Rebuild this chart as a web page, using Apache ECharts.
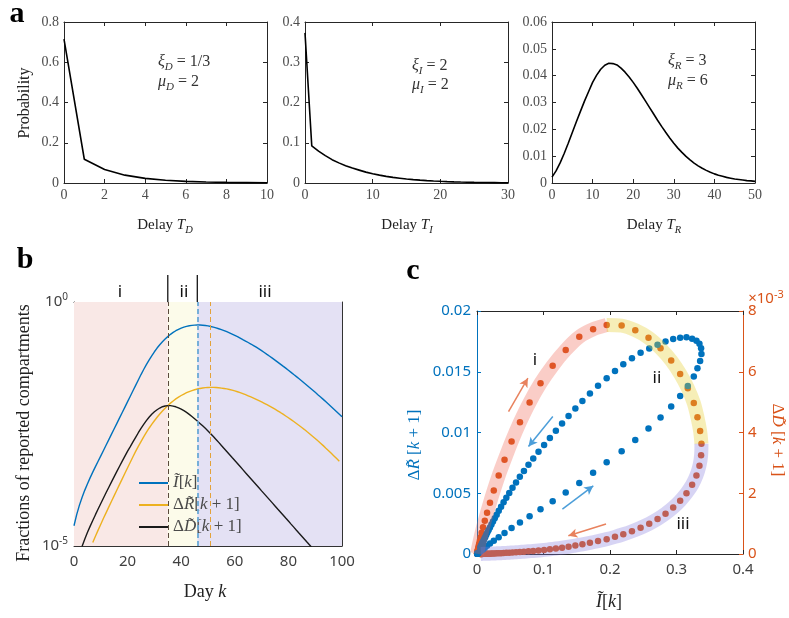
<!DOCTYPE html>
<html>
<head>
<meta charset="utf-8">
<script src="https://cdn.jsdelivr.net/npm/echarts@6/dist/echarts.min.js"></script>
<style>
  html, body { margin: 0; padding: 0; background: #fff; }
  #chart { width: 789px; height: 618px; }
</style>
</head>
<body>
<div id="chart"></div>
<script>
// ---- delay distributions (panel a) ----
const delayD = [0, 1, 2, 3, 4, 5, 6, 7, 8, 9, 10];
const probD = [0.715, 0.118, 0.067, 0.039, 0.023, 0.014, 0.008, 0.005, 0.003, 0.002, 0.001];

const delayI = [0, 1, 2, 3, 4, 5, 6, 7, 8, 9, 10, 11, 12, 13, 14, 15, 16, 17, 18, 19, 20,
  21, 22, 23, 24, 25, 26, 27, 28, 29, 30];
const probI = [0.373, 0.092, 0.079, 0.068, 0.058, 0.050, 0.043, 0.037, 0.032, 0.027, 0.023,
  0.0195, 0.0165, 0.014, 0.012, 0.010, 0.0085, 0.0072, 0.006, 0.005, 0.0042,
  0.0035, 0.0029, 0.0024, 0.0020, 0.0016, 0.0013, 0.0011, 0.0009, 0.0007, 0.0006];

const delayR = [0, 1, 2, 3, 4, 5, 6, 7, 8, 9, 10, 11, 12, 13, 14, 15, 16, 17, 18, 19, 20,
  21, 22, 23, 24, 25, 26, 27, 28, 29, 30, 31, 32, 33, 34, 35, 36, 37, 38, 39, 40,
  41, 42, 43, 44, 45, 46, 47, 48, 49, 50];
const probR = [0.0022, 0.0045, 0.0075, 0.0110, 0.0148, 0.0188, 0.0228, 0.0267, 0.0305, 0.0340,
  0.0375, 0.0402, 0.0424, 0.0439, 0.0446, 0.0445, 0.0440, 0.0428, 0.0413, 0.0395,
  0.0375, 0.0353, 0.0330, 0.0306, 0.0282, 0.0258, 0.0234, 0.0211, 0.0189, 0.0168,
  0.0148, 0.0130, 0.0114, 0.0099, 0.0086, 0.0074, 0.0064, 0.0055, 0.0047, 0.0040,
  0.0034, 0.0029, 0.0025, 0.0021, 0.0018, 0.0015, 0.0013, 0.0011, 0.0009, 0.0008,
  0.0006];

// ---- reported compartments per day (panels b and c) ----
const days = [0, 1, 2, 3, 4, 5, 6, 7, 8, 9, 10, 11, 12, 13, 14, 15, 16, 17, 18, 19,
  20, 21, 22, 23, 24, 25, 26, 27, 28, 29, 30, 31, 32, 33, 34, 35, 36, 37, 38, 39,
  40, 41, 42, 43, 44, 45, 46, 47, 48, 49, 50, 51, 52, 53, 54, 55, 56, 57, 58, 59,
  60, 61, 62, 63, 64, 65, 66, 67, 68, 69, 70, 71, 72, 73, 74, 75, 76, 77, 78, 79,
  80, 81, 82, 83, 84, 85, 86, 87, 88, 89, 90, 91, 92, 93, 94, 95, 96, 97, 98, 99, 100];

// I~[k]
const infected = [2.6e-5, 4.4e-5, 6.8e-5, 9.9e-5, 1.38e-4, 1.87e-4, 2.49e-4, 3.26e-4, 4.23e-4, 5.46e-4,
  7.03e-4, 9.08e-4, 1.173e-3, 1.517e-3, 1.959e-3, 2.529e-3, 3.266e-3, 4.217e-3, 5.445e-3, 7.031e-3,
  9.078e-3, 0.01172, 0.01514, 0.01954, 0.02523, 0.0326, 0.0414, 0.0520, 0.0646, 0.0791,
  0.0955, 0.1138, 0.1334, 0.1538, 0.1746, 0.1950, 0.2175, 0.2380, 0.2579, 0.2760,
  0.2920, 0.3055, 0.3170, 0.3260, 0.3315, 0.3355, 0.3375, 0.3370, 0.3345, 0.3300,
  0.3235, 0.3150, 0.3055, 0.2950, 0.2835, 0.2715, 0.2590, 0.2460, 0.2330, 0.2200,
  0.2075, 0.1950, 0.1820, 0.1698, 0.1585, 0.1479, 0.1377, 0.1279, 0.1186, 0.1096,
  0.1009, 0.0925, 0.0846, 0.0774, 0.0706, 0.0644, 0.0587, 0.0534, 0.0485, 0.0441,
  0.0400, 0.0362, 0.0327, 0.0296, 0.0267, 0.0241, 0.0217, 0.0195, 0.0175, 0.0157,
  0.0141, 0.0126, 0.0113, 0.0101, 0.00900, 0.00802, 0.00714, 0.00635, 0.00564, 0.00500,
  0.00443];

// dR~[k+1]
const newRecovered = [null, null, null, null, null, null, null, 1.175e-5, 1.585e-5, 2.113e-5,
  2.80e-5, 3.69e-5, 4.84e-5, 6.34e-5, 8.28e-5, 1.079e-4, 1.406e-4, 1.828e-4, 2.377e-4, 3.09e-4,
  4.01e-4, 5.20e-4, 6.75e-4, 8.67e-4, 1.10e-3, 1.38e-3, 1.73e-3, 2.13e-3, 2.59e-3, 3.11e-3,
  3.69e-3, 4.34e-3, 5.06e-3, 5.84e-3, 6.68e-3, 7.56e-3, 8.46e-3, 9.39e-3, 0.01033, 0.01123,
  0.01213, 0.01301, 0.01383, 0.01460, 0.01528, 0.01589, 0.01646, 0.01693, 0.01731, 0.01756,
  0.01772, 0.01783, 0.01780, 0.01769, 0.01750, 0.01722, 0.01692, 0.01656, 0.01612, 0.01561,
  0.01507, 0.01446, 0.01384, 0.01321, 0.01259, 0.01197, 0.01135, 0.01074, 0.01014, 0.00955,
  0.00897, 0.00841, 0.00787, 0.00735, 0.00684, 0.00635, 0.00589, 0.00545, 0.00502, 0.00462,
  0.00425, 0.00389, 0.00356, 0.00324, 0.00295, 0.00268, 0.00243, 0.00219, 0.00198, 0.00178,
  0.00160, 0.00143, 0.00128, 0.00114, 0.00101, 8.97e-4, 7.94e-4, 7.01e-4, 6.18e-4, 5.43e-4,
  null];

// dD~[k+1]
const newDeaths = [null, null, null, 9.77e-6, 1.380e-5, 1.884e-5, 2.523e-5, 3.342e-5, 4.385e-5, 5.728e-5,
  7.447e-5, 9.64e-5, 1.245e-4, 1.603e-4, 2.061e-4, 2.642e-4, 3.381e-4, 4.315e-4, 5.495e-4, 6.966e-4,
  8.79e-4, 1.091e-3, 1.361e-3, 1.690e-3, 2.094e-3, 2.582e-3, 3.10e-3, 3.70e-3, 4.34e-3, 4.99e-3,
  5.62e-3, 6.20e-3, 6.72e-3, 7.15e-3, 7.40e-3, 7.54e-3, 7.52e-3, 7.37e-3, 7.12e-3, 6.77e-3,
  6.37e-3, 5.93e-3, 5.46e-3, 4.97e-3, 4.50e-3, 4.05e-3, 3.63e-3, 3.25e-3, 2.904e-3, 2.582e-3,
  2.280e-3, 2.004e-3, 1.754e-3, 1.528e-3, 1.327e-3, 1.151e-3, 9.98e-4, 8.65e-4, 7.50e-4, 6.50e-4,
  5.64e-4, 4.89e-4, 4.24e-4, 3.67e-4, 3.18e-4, 2.76e-4, 2.39e-4, 2.07e-4, 1.80e-4, 1.56e-4,
  1.35e-4, 1.17e-4, 1.016e-4, 8.81e-5, 7.64e-5, 6.62e-5, 5.74e-5, 4.98e-5, 4.32e-5, 3.74e-5,
  3.24e-5, 2.81e-5, 2.44e-5, 2.11e-5, 1.83e-5, 1.59e-5, 1.38e-5, 1.19e-5, 1.035e-5, 8.97e-6,
  7.78e-6, 6.74e-6, 5.84e-6, 5.07e-6, 4.39e-6, 3.81e-6, 3.30e-6, 2.86e-6, 2.48e-6, 2.15e-6,
  null];

// arrows along the loops in panel c, as [I~, dR~] pairs (tail, head)
const loopArrows = [
  { from: [0.0474, 0.01172], to: [0.0765, 0.01447], color: '#E8825E' },
  { from: [0.114, 0.01131], to: [0.0774, 0.00884], color: '#4C9ED9' },
  { from: [0.1284, 0.0037], to: [0.1749, 0.00561], color: '#4C9ED9' },
  { from: [0.194, 0.00247], to: [0.1374, 0.0015], color: '#E8825E' }
];

// ---- styling ----
const SERIF = '"Liberation Serif", "Times New Roman", serif';
const SANS = '"Noto Sans", "Liberation Sans", sans-serif';
const AX = '#262626';
const BLUE = '#0072BD';
const ORANGE = '#D95319';
const GOLD = '#EDB120';

function argmax(arr) {
  let best = -1, bi = 0;
  arr.forEach((v, i) => { if (v !== null && v > best) { best = v; bi = i; } });
  return bi;
}
const kPeakD = days[argmax(newDeaths)];
const kPeakI = days[argmax(infected)];
const kPeakR = days[argmax(newRecovered)];

function pairs(xs, ys) {
  const out = [];
  xs.forEach((x, i) => { if (ys[i] !== null && ys[i] !== undefined) out.push([x, ys[i]]); });
  return out;
}
function pairsRange(xs, ys, from, to) {
  const out = [];
  for (let i = from; i <= to; i++) if (ys[i] !== null) out.push([xs[i], ys[i]]);
  return out;
}

function axis(gridIndex, o) {
  const a = {
    gridIndex: gridIndex,
    position: o.pos,
    type: o.type || 'value',
    min: o.min, max: o.max,
    axisLine: { show: true, onZero: false, lineStyle: { color: o.lineColor || AX, width: 1 } },
    axisTick: { show: true, inside: true, length: o.tickLen || 4, lineStyle: { color: o.lineColor || AX } },
    splitLine: { show: false },
    axisPointer: { show: false },
    axisLabel: o.label ? Object.assign({
      show: true, margin: o.margin || 6, color: o.labelColor || '#404040',
      fontFamily: o.font || SANS, fontSize: o.fontSize || 14
    }, o.labelExtra || {}) : { show: false }
  };
  if (o.interval !== undefined) a.interval = o.interval;
  if (o.type === 'log') a.logBase = 10;
  return a;
}

const aLabel = { font: SERIF, fontSize: 14, labelColor: '#4d4d4d', margin: 5 };

const grids = [
  { left: 64, top: 22, width: 203, height: 161 },
  { left: 305, top: 22, width: 203, height: 161 },
  { left: 552, top: 22, width: 203, height: 161 },
  { left: 74, top: 302, width: 268, height: 244 },
  { left: 477, top: 311, width: 266, height: 243 }
].map(g => Object.assign({ containLabel: false, outerBoundsMode: 'none' }, g));

const xAxes = [
  axis(0, Object.assign({ pos: 'bottom', min: 0, max: 10, interval: 2, label: true }, aLabel)),
  axis(0, { pos: 'top', min: 0, max: 10, interval: 2 }),
  axis(1, Object.assign({ pos: 'bottom', min: 0, max: 30, interval: 10, label: true }, aLabel)),
  axis(1, { pos: 'top', min: 0, max: 30, interval: 10 }),
  axis(2, Object.assign({ pos: 'bottom', min: 0, max: 50, interval: 10, label: true }, aLabel)),
  axis(2, { pos: 'top', min: 0, max: 50, interval: 10 }),
  axis(3, { pos: 'bottom', min: 0, max: 100, interval: 20, label: true, fontSize: 15, margin: 8, lineColor: '#333' }),
  axis(3, { pos: 'top', min: 0, max: 100, interval: 20, lineColor: '#333' }),
  axis(4, { pos: 'bottom', min: 0, max: 0.4, interval: 0.1, label: true, fontSize: 15, margin: 8 }),
  axis(4, { pos: 'top', min: 0, max: 0.4, interval: 0.1 })
];

const logLabel = {
  formatter: function (v) {
    const e = Math.round(Math.log10(v));
    if (e === 0) return '{b|10}{s|0}';
    if (e === -5) return '{b|10}{s|-5}';
    return '';
  },
  rich: {
    b: { fontFamily: SANS, fontSize: 15, color: '#404040', lineHeight: 20, verticalAlign: 'middle' },
    s: { fontFamily: SANS, fontSize: 10, color: '#404040', lineHeight: 10, verticalAlign: 'top' }
  }
};

const yAxes = [
  axis(0, Object.assign({ pos: 'left', min: 0, max: 0.8, interval: 0.2, label: true }, aLabel)),
  axis(0, { pos: 'right', min: 0, max: 0.8, interval: 0.2 }),
  axis(1, Object.assign({ pos: 'left', min: 0, max: 0.4, interval: 0.1, label: true }, aLabel)),
  axis(1, { pos: 'right', min: 0, max: 0.4, interval: 0.1 }),
  axis(2, Object.assign({ pos: 'left', min: 0, max: 0.06, interval: 0.01, label: true }, aLabel)),
  axis(2, { pos: 'right', min: 0, max: 0.06, interval: 0.01 }),
  axis(3, { pos: 'left', type: 'log', min: 1e-5, max: 1, label: true, margin: 6, lineColor: '#333', labelExtra: logLabel }),
  axis(3, { pos: 'right', type: 'log', min: 1e-5, max: 1, lineColor: '#333' }),
  axis(4, { pos: 'left', min: 0, max: 0.02, interval: 0.005, label: true, fontSize: 15, margin: 6,
    lineColor: BLUE, labelColor: BLUE }),
  axis(4, { pos: 'right', min: 0, max: 0.008, interval: 0.002, label: true, fontSize: 15, margin: 5,
    lineColor: ORANGE, labelColor: ORANGE,
    labelExtra: { formatter: v => String(Math.round(v * 1000)) } })
];

function distLine(xi, yi, xs, ys) {
  return {
    type: 'line', xAxisIndex: xi, yAxisIndex: yi, data: pairs(xs, ys),
    showSymbol: false, silent: true, color: '#000',
    lineStyle: { color: '#000', width: 1.6 }, z: 3
  };
}

const nameI = 'I[k]', nameR = 'dR[k+1]', nameD = 'dD[k+1]';

const legendRich = {
  i: { fontFamily: SERIF, fontSize: 17, fontStyle: 'italic', color: '#4a4a4a' },
  r: { fontFamily: SERIF, fontSize: 17, color: '#4a4a4a' }
};
const legendText = {};
legendText[nameI] = '{i|\u0128}{r|[}{i|k}{r|]}';
legendText[nameR] = '{r|\u0394}{i|R\u0303}{r|[}{i|k}{r| + 1]}';
legendText[nameD] = '{r|\u0394}{i|D\u0303}{r|[}{i|k}{r| + 1]}';

const bandI = 'rgba(240, 90, 70, 0.30)';
const bandII = 'rgba(230, 205, 50, 0.35)';
const bandIII = 'rgba(130, 120, 220, 0.32)';

const series = [
  distLine(0, 0, delayD, probD),
  distLine(2, 2, delayI, probI),
  distLine(4, 4, delayR, probR),

  // panel b
  {
    name: nameI, type: 'line', xAxisIndex: 6, yAxisIndex: 6, data: pairs(days, infected),
    showSymbol: false, silent: true, color: BLUE, lineStyle: { color: BLUE, width: 1.4 }, z: 4,
    markArea: {
      silent: true,
      data: [
        [{ xAxis: 0, itemStyle: { color: '#f9e8e6' } }, { xAxis: kPeakD }],
        [{ xAxis: kPeakD, itemStyle: { color: '#fcfbea' } }, { xAxis: kPeakI }],
        [{ xAxis: kPeakI, itemStyle: { color: '#e4e1f4' } }, { xAxis: 100 }]
      ]
    },
    markLine: {
      silent: true, symbol: 'none', label: { show: false },
      lineStyle: { color: '#6aa9d6', width: 1.8, type: [5, 3] },
      data: [{ xAxis: kPeakI }]
    }
  },
  {
    name: nameR, type: 'line', xAxisIndex: 6, yAxisIndex: 6, data: pairs(days, newRecovered),
    showSymbol: false, silent: true, color: GOLD, lineStyle: { color: GOLD, width: 1.4 }, z: 4,
    markLine: {
      silent: true, symbol: 'none', label: { show: false },
      lineStyle: { color: '#e3a23a', width: 1, type: [5, 3] },
      data: [{ xAxis: kPeakR }]
    }
  },
  {
    name: nameD, type: 'line', xAxisIndex: 6, yAxisIndex: 6, data: pairs(days, newDeaths),
    showSymbol: false, silent: true, color: '#1a1a1a', lineStyle: { color: '#1a1a1a', width: 1.4 }, z: 4,
    markLine: {
      silent: true, symbol: 'none', label: { show: false },
      lineStyle: { color: '#5b4a3c', width: 1, type: [5, 3] },
      data: [{ xAxis: kPeakD }]
    }
  },

  // panel c: loops
  {
    name: 'deaths loop', type: 'scatter', xAxisIndex: 8, yAxisIndex: 9,
    data: pairs(infected, newDeaths), symbolSize: 6.5,
    itemStyle: { color: ORANGE, opacity: 1 }, silent: true, z: 2
  },
  {
    name: 'recovered loop', type: 'scatter', xAxisIndex: 8, yAxisIndex: 8,
    data: pairs(infected, newRecovered), symbolSize: 6.5,
    itemStyle: { color: BLUE, opacity: 1 }, silent: true, z: 3,
    markLine: {
      silent: true, symbol: ['none', 'arrow'], symbolSize: [7, 9], label: { show: false },
      data: loopArrows.map(a => [
        { coord: a.from, lineStyle: { color: a.color, width: 1.5, type: 'solid' }, itemStyle: { color: a.color } },
        { coord: a.to }
      ])
    }
  }
];

// phase bands along the deaths loop
[[0, kPeakD, bandI], [kPeakD, kPeakI, bandII], [kPeakI, 99, bandIII]].forEach(([a, b, c]) => {
  series.push({
    type: 'line', xAxisIndex: 8, yAxisIndex: 9,
    data: pairsRange(infected, newDeaths, a, b),
    showSymbol: false, silent: true, smooth: 0.3, z: 6,
    lineStyle: { color: c, width: 14, cap: 'butt', join: 'round' }
  });
});

const chart = echarts.init(document.getElementById('chart'), null, { width: 789, height: 618 });

chart.setOption({
  animation: false,
  backgroundColor: '#ffffff',
  grid: grids,
  xAxis: xAxes,
  yAxis: yAxes,
  legend: {
    data: [nameI, nameR, nameD],
    orient: 'vertical', left: 134, top: 469,
    itemWidth: 29, itemHeight: 2, itemGap: 4, icon: 'rect',
    selectedMode: false,
    formatter: n => legendText[n],
    textStyle: { fontFamily: SERIF, fontSize: 17, color: '#4a4a4a', lineHeight: 18, rich: legendRich }
  },
  series: series
});

// ---- text layer ----
function rr(size, color, italic) {
  return { fontFamily: SERIF, fontSize: size, fontStyle: italic ? 'italic' : 'normal',
    fill: color, color: color, lineHeight: 22, verticalAlign: 'middle' };
}
function sub(size, color, italic) {
  return { fontFamily: SERIF, fontSize: size, fontStyle: italic ? 'italic' : 'normal',
    fill: color, color: color, lineHeight: 15, verticalAlign: 'bottom' };
}
function sup(size, color, family) {
  return { fontFamily: family || SANS, fontSize: size, fill: color, color: color,
    lineHeight: 10, verticalAlign: 'top' };
}
function txt(x, y, text, rich, rot, align) {
  return { type: 'text', x: x, y: y, rotation: rot || 0, silent: true, z: 100,
    style: { text: text, rich: rich, align: align || 'center', verticalAlign: 'middle' } };
}

const mathRich = {
  i: rr(16, '#333', true), r: rr(16, '#333', false), s: sub(11, '#333', true)
};
const titleRich = {
  i: rr(15, '#222', true), r: rr(15, '#222', false), s: sub(10.5, '#222', true)
};
const letterRich = { L: { fontFamily: SERIF, fontSize: 30, fontWeight: 'bold', fill: '#000', color: '#000' } };
const phaseRich = { r: { fontFamily: SANS, fontSize: 17, fill: '#111', color: '#111' } };

const px = (k) => chart.convertToPixel({ xAxisIndex: 6, yAxisIndex: 6 }, [k, 1]);
const xD = px(kPeakD)[0], xI = px(kPeakI)[0];
const gridTop = px(0)[1];

const graphics = [
  // panel letters
  txt(17, 14, '{L|a}', letterRich),
  txt(25, 260, '{L|b}', letterRich),
  txt(413, 271, '{L|c}', letterRich),

  // panel a titles
  txt(25, 103, '{r|Probability}', { r: rr(16, '#222', false) }, Math.PI / 2),
  txt(165, 225, '{r|Delay }{i|T}{s|D}', titleRich),
  txt(407, 225, '{r|Delay }{i|T}{s|I}', titleRich),
  txt(654, 225, '{r|Delay }{i|T}{s|R}', titleRich),

  // panel a parameter notes
  txt(158, 62, '{i|\u03BE}{s|D}{r| = 1/3}', mathRich, 0, 'left'),
  txt(158, 82, '{i|\u03BC}{s|D}{r| = 2}', mathRich, 0, 'left'),
  txt(412, 66, '{i|\u03BE}{s|I}{r| = 2}', mathRich, 0, 'left'),
  txt(412, 85, '{i|\u03BC}{s|I}{r| = 2}', mathRich, 0, 'left'),
  txt(668, 61, '{i|\u03BE}{s|R}{r| = 3}', mathRich, 0, 'left'),
  txt(668, 81, '{i|\u03BC}{s|R}{r| = 6}', mathRich, 0, 'left'),

  // panel b titles
  txt(24, 433, '{r|Fractions of reported compartments}', { r: rr(18, '#222', false) }, Math.PI / 2),
  txt(205, 592, '{r|Day }{i|k}', { r: rr(18, '#222', false), i: rr(18, '#222', true) }),

  // panel b phase separators and names
  { type: 'line', silent: true, z: 100, shape: { x1: xD, y1: 275, x2: xD, y2: gridTop },
    style: { stroke: '#000', lineWidth: 1.2 } },
  { type: 'line', silent: true, z: 100, shape: { x1: xI, y1: 275, x2: xI, y2: gridTop },
    style: { stroke: '#000', lineWidth: 1.2 } },
  txt(120, 292, '{r|i}', phaseRich),
  txt(184, 292, '{r|ii}', phaseRich),
  txt(265, 292, '{r|iii}', phaseRich),

  // panel c titles
  txt(609, 602, '{i|\u0128}{r|[}{i|k}{r|]}', { r: rr(18, '#222', false), i: rr(18, '#222', true) }),
  txt(415, 445, '{r|\u0394}{i|R\u0303}{r| [}{i|k}{r| + 1]}',
    { r: rr(17, BLUE, false), i: rr(17, BLUE, true) }, Math.PI / 2),
  txt(777, 440, '{r|\u0394}{i|D\u0303}{r| [}{i|k}{r| + 1]}',
    { r: rr(17, ORANGE, false), i: rr(17, ORANGE, true) }, -Math.PI / 2),
  txt(766, 299, '{m|\u00D710}{p|-3}', {
    m: { fontFamily: SANS, fontSize: 15, fill: ORANGE, color: ORANGE, lineHeight: 20, verticalAlign: 'middle' },
    p: sup(11, ORANGE)
  }),

  // panel c phase names
  txt(535, 360, '{r|i}', phaseRich),
  txt(657, 378, '{r|ii}', phaseRich),
  txt(683, 524, '{r|iii}', phaseRich)
];

chart.setOption({ graphic: graphics });
</script>
</body>
</html>
